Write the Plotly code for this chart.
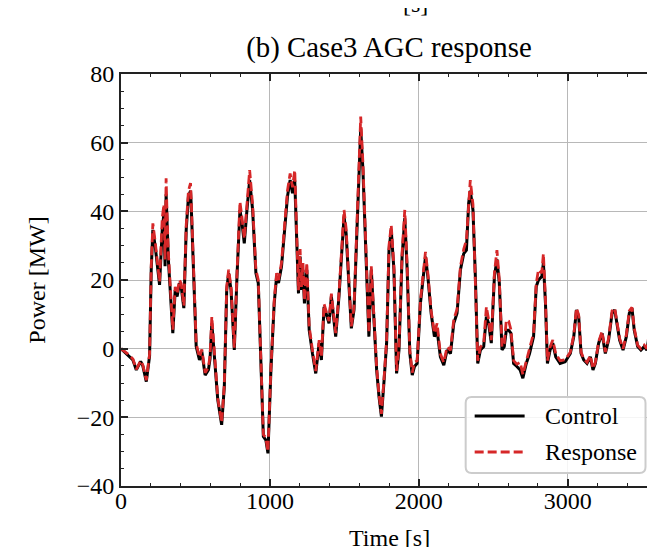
import plotly.graph_objects as go

time_s = [0, 25, 47, 80, 103, 132, 147, 170, 192, 203, 214, 230, 259, 277, 288, 296, 303, 310, 318,
          348, 364, 377, 393, 404, 422, 438, 453, 467, 471, 505, 527, 543, 565, 587, 598, 610, 627,
          650, 676, 694, 710, 723, 739, 761, 779, 799, 813, 828, 846, 864, 884, 906, 922, 940, 956,
          973, 987, 1007, 1029, 1045, 1058, 1078, 1096, 1118, 1136, 1152, 1167, 1181, 1192, 1203,
          1212, 1222, 1232, 1248, 1264, 1286, 1308, 1331, 1346, 1364, 1382, 1397, 1413, 1431, 1442,
          1464, 1480, 1498, 1512, 1527, 1547, 1565, 1583, 1598, 1610, 1625, 1643, 1665, 1681, 1694,
          1717, 1733, 1749, 1767, 1784, 1800, 1815, 1833, 1851, 1867, 1888, 1906, 1922, 1940, 1956,
          1971, 1989, 2011, 2034, 2045, 2061, 2083, 2105, 2123, 2145, 2168, 2190, 2213, 2235, 2257,
          2280, 2302, 2320, 2335, 2346, 2364, 2380, 2396, 2414, 2436, 2454, 2469, 2487, 2508, 2525,
          2541, 2559, 2574, 2588, 2604, 2619, 2637, 2659, 2681, 2699, 2722, 2744, 2771, 2789, 2804,
          2826, 2837, 2851, 2864, 2882, 2900, 2920, 2949, 2983, 3018, 3041, 3059, 3074, 3090, 3108,
          3130, 3152, 3170, 3186, 3208, 3231, 3253, 3275, 3298, 3316, 3331, 3349, 3372, 3394, 3414,
          3432, 3447, 3470, 3492, 3514, 3532, 3550, 3566, 3577, 3600]

control_mw = [0, -1, -1.8, -3.3, -6.2, -3.7, -5.1, -9.6, -2.1, 22.9, 34.6, 29.7, 18.6, 34.6, 39.4, 24, 45, 35, 26,
              4.5, 17.1, 15.2, 19.1, 18.1, 11.8, 34.6, 44.3, 46, 42.4, 0.6, -3.3, -0.9, -7.7, -6.2, -3, 7.4, -2.4,
              -14.9, -22.2, -11, 17.1, 22, 17.1, -0.4, 21, 40.4, 36.5, 30.7, 40.4, 49.1, 40.4, 22, 19.1, -4.3, -25.6,
              -26.6, -30.5, -6.2, 13.2, 21, 19.1, 23.9, 33.6, 44.3, 49.1, 45.3, 49, 28.7, 16.1, 26.8,
              17.1, 23, 13.2, 23, 5.4, -1.4, -7.2, 1.6, -3.3, 12.2, 9.3, 7.4, 15.2, 7.4, 3.5,
              15.2, 26.8, 38.5, 33.6, 21, 5.9, 11.3, 30.7, 52, 64, 52, 27.7, 3.5, 23, 13.2,
              -6.2, -14, -19.8, -9.2, 1.6, 28.7, 34.6, 23, -7.2, -0.4, 26.8, 38, 23, -1.4, -7.7,
              -5.2, -4.3, 13.2, 23.9, 26.8, 21, 10.3, 3.5, 5.4, -2.4, -4.8, -0.4, -1.4, 7.4, 10.3,
              23, 27.7, 28.7, 42.4, 46, 40.4, 21, -4.3, -0.4, 0.6, 9.3, 7.4, 1.6, 21, 26,
              19.1, -0.4, 0.6, 5.4, 5.4, 4.5, -4.3, -5.2, -6.2, -8.6, -4.3, -1.4, 3.5, 18.1, 20,
              21, 25, 13.2, -4.3, -0.4, 1.6, -2.4, -4.3, -3.8, -1.4, 3.5, 11.3, 9.3, -1.4, -3.3,
              -4.3, -2.4, -6.2, -4.3, 1.6, 4.5, -1.4, 2.5, 10.3, 11.3, 7.4, 2.5, -0.4, 3.5, 10.3,
              11.8, 5.4, 0.6, -0.4, 0.6, -0.4, 4.5, 3.5, 0.6, -1]

response_mw = [0, -0.8, -1.6, -3.0, -6.0, -3.5, -4.8, -9.2, -1.5, 24, 36.5, 31, 19.5, 38, 42, 26, 49.6, 38, 28,
               5.5, 18, 16, 20, 19, 12.5, 36, 46, 48.2, 44, 1.5, -2.5, -0.2, -7, -5.5, -2, 9.3, -1.8,
               -14.5, -21.5, -10.5, 18, 23, 18, 0.3, 22, 42.8, 38, 32, 42, 52, 42, 23, 20, -3.5, -25,
               -26, -30, -5.5, 14, 22, 20, 25, 35, 46, 51, 47, 52, 30, 17, 29,
               18, 25, 14, 25, 6.5, -0.5, -6.5, 2.5, -2.5, 13, 10, 8, 16, 8, 4.5,
               16, 28, 40.4, 35, 22, 6.5, 12, 32, 54, 67.6, 54, 29, 4.5, 24, 14,
               -5.5, -13.5, -19, -8.5, 2.5, 30, 36, 24, -6.5, 0.5, 28, 40.4, 24, -0.5, -7,
               -4, -3.5, 14, 25, 28.2, 22, 11, 4.5, 7.4, -1.5, -4, 0.5, -0.5, 8.5, 11.5,
               24, 29, 31.6, 44, 49.1, 42, 22, -3.5, 0.5, 1.5, 12.2, 8.5, 2.5, 22, 28.7,
               20, 0.5, 1.5, 8.3, 8, 5.5, -3.5, -4.5, -4, -7.5, -3.5, -0.5, 4.5, 19, 23,
               22, 27.7, 14, -3.5, 0.5, 2.5, -1.5, -3.5, -3.2, -1, 4, 11.8, 9.8, -1, -3,
               -4, -2, -5.8, -4, 2, 5, -1, 3, 11, 11.8, 8, 3, 0, 4, 11,
               12, 6, 1, 0, 1, 0, 5, 4, 1, -0.5]

x_ticks = [0, 1000, 2000, 3000]
y_ticks = [-40, -20, 0, 20, 40, 60, 80]
series_names = ["Control", "Response"]
series_colors = ["black", "#d62728"]
series_dash = ["solid", "9px,4px"]

FONT = "Liberation Serif, Times New Roman, serif"
AX = "#222222"

# page body has an 8px margin; figure coords = window coords - 8
W, H = 660, 547
ML, MT = 113, 66
PLOT_R, PLOT_B = 649.5, 478
MR, MB = W - PLOT_R, H - PLOT_B
PW, PH = PLOT_R - ML, PLOT_B - MT


def px(xf):
    return (xf - ML) / PW


def py(yf):
    return (PLOT_B - yf) / PH


fig = go.Figure()
fig.add_trace(go.Scatter(x=time_s, y=control_mw, mode="lines", name=series_names[0],
                         line=dict(color=series_colors[0], width=3), showlegend=False))
fig.add_trace(go.Scatter(x=time_s, y=response_mw, mode="lines", name=series_names[1],
                         line=dict(color=series_colors[1], width=2.8, dash=series_dash[1]),
                         showlegend=False))

fig.update_layout(
    width=W, height=H,
    margin=dict(l=ML, r=MR, t=MT, b=MB, autoexpand=False),
    paper_bgcolor="white", plot_bgcolor="white",
    font=dict(family=FONT, size=24, color="black"),
    title=dict(text="(b) Case3 AGC response", x=0.5, xanchor="center", xref="paper",
               y=1 - 39 / H, yanchor="middle", font=dict(size=28.8, family=FONT)),
    showlegend=False,
    xaxis=dict(range=[0, 3600], tickvals=x_ticks, ticktext=[str(v) for v in x_ticks],
               ticks="inside", ticklen=7, tickwidth=1.5, tickcolor=AX,
               showline=True, linecolor=AX, linewidth=1.8, mirror="ticks",
               showgrid=True, gridcolor="#b8b8b8", gridwidth=1.2, zeroline=False,
               minor=dict(dtick=200, tick0=0, ticks="inside", ticklen=3.5, tickwidth=1.2,
                          tickcolor=AX, showgrid=False),
               tickfont=dict(size=24, family=FONT)),
    yaxis=dict(range=[-40, 80], tickvals=y_ticks, ticks="inside", ticklen=7, tickwidth=1.5,
               tickcolor=AX, showline=True, linecolor=AX, linewidth=1.8, mirror="ticks",
               showgrid=True, gridcolor="#b8b8b8", gridwidth=1.2, zeroline=False,
               minor=dict(dtick=5, tick0=0, ticks="inside", ticklen=3.5, tickwidth=1.2,
                          tickcolor=AX, showgrid=False),
               tickfont=dict(size=24, family=FONT),
               title=dict(text="Power [MW]", standoff=24, font=dict(size=24, family=FONT))),
)

try:
    fig.update_xaxes(ticklabelstandoff=-8)
except Exception:
    pass

# legend box (rounded, matplotlib style)
bx0, bx1, by0, by1 = 458, 638, 389, 465
r = 6
x0, x1 = px(bx0), px(bx1)
yt, yb = py(by0), py(by1)
rx, ry = r / PW, r / PH
path = (f"M {x0+rx},{yt} L {x1-rx},{yt} Q {x1},{yt} {x1},{yt-ry} "
        f"L {x1},{yb+ry} Q {x1},{yb} {x1-rx},{yb} "
        f"L {x0+rx},{yb} Q {x0},{yb} {x0},{yb+ry} "
        f"L {x0},{yt-ry} Q {x0},{yt} {x0+rx},{yt} Z")
fig.add_shape(type="path", path=path, xref="paper", yref="paper",
              fillcolor="rgba(255,255,255,0.85)", line=dict(color="#cccccc", width=2), layer="above")

entry_y = [408, 444]
widths = [3, 2.8]
for name, color, dash, ey, lw in zip(series_names, series_colors, series_dash, entry_y, widths):
    fig.add_shape(type="line", xref="paper", yref="paper", x0=px(467), x1=px(517),
                  y0=py(ey), y1=py(ey), line=dict(color=color, width=lw, dash=dash), layer="above")
    fig.add_annotation(text=name, xref="paper", yref="paper", x=px(535), y=py(ey),
                       xanchor="left", yanchor="middle", showarrow=False,
                       font=dict(size=24, family=FONT, color="black"))

fig.add_annotation(text="Time [s]", xref="paper", yref="paper", x=0.5, y=(PLOT_B - 530) / PH,
                   xanchor="center", yanchor="middle", showarrow=False,
                   font=dict(size=24, family=FONT, color="black"))
fig.add_annotation(text="[s]", xref="paper", yref="paper", x=px(408), y=(PLOT_B + 4) / PH,
                   xanchor="center", yanchor="middle", showarrow=False,
                   font=dict(size=24, family=FONT, color="black"))

fig.write_html("out.html")
